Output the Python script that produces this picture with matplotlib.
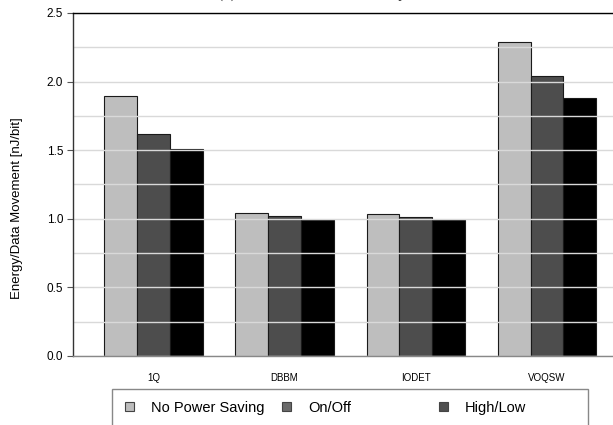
import numpy as np
import matplotlib
matplotlib.use("Agg")
import matplotlib.pyplot as plt
from matplotlib.patches import Patch, Rectangle
from matplotlib.ticker import MultipleLocator

plt.rcParams['font.family'] = ['Liberation Sans', 'DejaVu Sans']

# data
designs = ["1Q", "DBBM", "IODET", "VOQSW"]
no_power_saving = [1.895, 1.040, 1.033, 2.286]
on_off = [1.620, 1.018, 1.013, 2.043]
high_low = [1.509, 0.991, 0.991, 1.878]

series_names = ["No Power Saving", "On/Off", "High/Low"]
bar_colors = ["#bebebe", "#4d4d4d", "#000000"]
legend_colors = ["#bdbdbd", "#6b6b6b", "#4f4f4f"]

fig = plt.figure(figsize=(6.13, 4.25), dpi=100)
ax = fig.add_axes([73 / 613, 69 / 425, 540 / 613, 343 / 425])

x = np.arange(len(designs))
width = 0.25
for i, vals in enumerate([no_power_saving, on_off, high_low]):
    ax.bar(x + (i - 1) * width, vals, width, color=bar_colors[i],
           edgecolor="#1a1a1a", linewidth=0.8, zorder=2)

ax.set_xlim(-0.613, 3.503)
ax.set_ylim(0, 2.5)
ax.set_xticks(x)
ax.set_xticklabels(designs, fontsize=7)
ax.tick_params(axis="x", length=0, pad=12)
ax.yaxis.set_major_locator(MultipleLocator(0.5))
ax.yaxis.set_minor_locator(MultipleLocator(0.25))
ax.yaxis.set_major_formatter(plt.FormatStrFormatter("%.1f"))
ax.tick_params(axis="y", which="major", labelsize=8.5, length=4,
               color="#555555", width=0.8, pad=3)
ax.tick_params(axis="y", which="minor", length=0)

# light gridlines, drawn over the bars
ax.grid(axis="y", which="both", color="#d9d9d9", linewidth=1.0, zorder=3)
ax.set_axisbelow(False)

ax.spines["right"].set_visible(False)
ax.spines["top"].set_color("black")
ax.spines["left"].set_color("#333333")
ax.spines["bottom"].set_color("#888888")
for s in ax.spines.values():
    s.set_linewidth(1.0)
    s.set_zorder(4)

ax.set_ylabel("Energy/Data Movement [nJ/bit]", fontsize=9.5)
ax.yaxis.set_label_coords(-0.092, 0.431)

# title, mostly cut off by the top edge in the original
fig.text(0.509, 1.004, "(b) Data Movement Efficiency", ha="center",
         va="baseline", fontsize=11, family="Liberation Serif", color="#222222")

# legend frame and three evenly spaced entries
fig.patches.append(Rectangle((112 / 613, -0.1), 476 / 613, 0.1 + 36 / 425,
                             transform=fig.transFigure, fill=False,
                             edgecolor="#888888", linewidth=1.0))
for i, name in enumerate(series_names):
    handle = Patch(facecolor=legend_colors[i], edgecolor="#444444", linewidth=0.8)
    leg = fig.legend([handle], [name], loc="center left",
                     bbox_to_anchor=((125 + 157 * i) / 613, 17 / 425),
                     frameon=False, fontsize=10.5, handlelength=0.6,
                     handleheight=0.6, handletextpad=1.2, borderpad=0,
                     borderaxespad=0)

fig.savefig("out.png", dpi=100)
